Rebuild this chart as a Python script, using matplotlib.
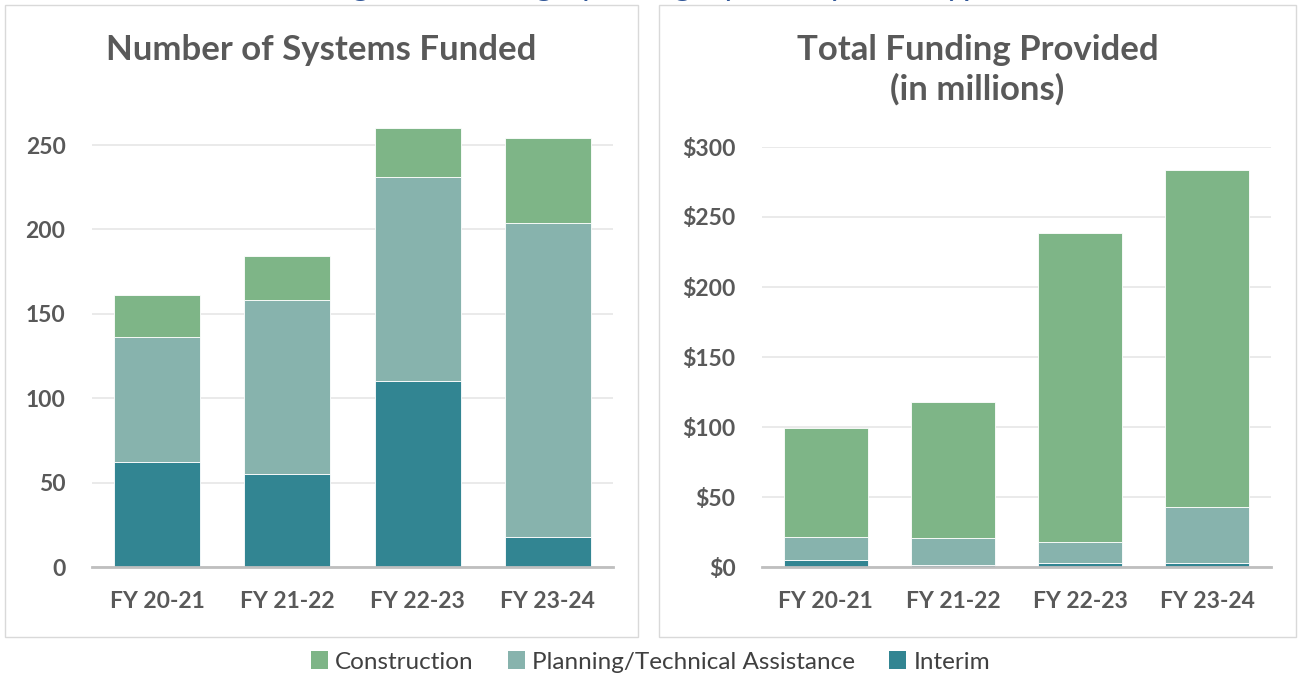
import matplotlib
matplotlib.use("Agg")
import matplotlib.pyplot as plt
from matplotlib.patches import Rectangle, Patch

plt.rcParams['font.family'] = ['Lato', 'DejaVu Sans']

# dados
years = ["FY 20-21", "FY 21-22", "FY 22-23", "FY 23-24"]
series = ["Construction", "Planning/Technical Assistance", "Interim"]

systems_interim = [62, 55, 110, 18]
systems_planning = [74, 103, 121, 186]
systems_construction = [25, 26, 29, 50]

funding_interim = [5, 1.2, 3, 3]
funding_planning = [16.5, 19.8, 15.2, 40]
funding_construction = [77.5, 96.6, 220.3, 240.5]

left_ticks = [0, 50, 100, 150, 200, 250]
right_ticks = [0, 50, 100, 150, 200, 250, 300]

colors = {"Construction": "#7EB587",
          "Planning/Technical Assistance": "#87B3AD",
          "Interim": "#328592"}
gray = "#595959"

W, H = 1301, 679
fig = plt.figure(figsize=(W / 100, H / 100), dpi=100)


def fbox(x0, y0, x1, y1):
    # pixel coords (top-left origin) -> figure fraction
    return [x0 / W, 1 - y1 / H, (x1 - x0) / W, (y1 - y0) / H]


# molduras dos paineis
for x0, x1 in [(5, 638), (659, 1296)]:
    b = fbox(x0, 5, x1, 637)
    fig.patches.append(Rectangle((b[0], b[1]), b[2], b[3], transform=fig.transFigure,
                                 fill=False, edgecolor="#D9D9D9", linewidth=1))

# titulo cortado no topo (so aparecem as partes de baixo das letras)
fig.text(0.5, 1 + 5 / H, "Program Funding by Category and System Type", color="#2F5597",
         fontsize=24, ha="center", va="baseline")


def stacked(ax, interim, planning, construction, ticks, ylim, fmt):
    x = range(len(years))
    width = 0.66
    ax.bar(x, interim, width, color=colors["Interim"], edgecolor="white", linewidth=0.6, zorder=3)
    ax.bar(x, planning, width, bottom=interim, color=colors["Planning/Technical Assistance"],
           edgecolor="white", linewidth=0.6, zorder=3)
    base = [a + b for a, b in zip(interim, planning)]
    ax.bar(x, construction, width, bottom=base, color=colors["Construction"],
           edgecolor="white", linewidth=0.6, zorder=3)
    ax.set_xlim(-0.5, 3.5)
    ax.set_ylim(*ylim)
    ax.set_xticks(list(x))
    ax.set_xticklabels(years)
    ax.set_yticks(ticks)
    ax.set_yticklabels([fmt(t) for t in ticks])
    ax.tick_params(axis="both", length=0, labelsize=16.5, labelcolor=gray)
    ax.tick_params(axis="y", pad=19)
    ax.tick_params(axis="x", pad=17)
    for lab in ax.get_xticklabels() + ax.get_yticklabels():
        lab.set_fontweight("bold")
    ax.grid(axis="y", color="#E6E6E6", linewidth=1.2, zorder=0)
    for s in ["top", "right", "left"]:
        ax.spines[s].set_visible(False)
    ax.spines["bottom"].set_color("#BFBFBF")
    ax.spines["bottom"].set_linewidth(2)
    ax.spines["bottom"].set_zorder(4)


ax1 = fig.add_axes(fbox(92, 567 - 265 * 422 / 250, 613, 567))
stacked(ax1, systems_interim, systems_planning, systems_construction,
        left_ticks, (0, 265), lambda t: f"{t}")

ax2 = fig.add_axes(fbox(762, 147, 1271, 567))
stacked(ax2, funding_interim, funding_planning, funding_construction,
        right_ticks, (0, 300), lambda t: f"${t}")

fig.text(321.5 / W, 1 - 50 / H, "Number of Systems Funded", ha="center", va="center",
         fontsize=25, fontweight="bold", color=gray)
fig.text(977.5 / W, 1 - 70 / H, "Total Funding Provided\n(in millions)", ha="center",
         va="center", fontsize=25, fontweight="bold", color=gray, linespacing=1.25)

handles = [Patch(facecolor=colors[s]) for s in series]
fig.legend(handles, series, loc="center", bbox_to_anchor=(0.5, 1 - 662 / H), ncol=3,
           frameon=False, fontsize=17.5, handlelength=0.7, handleheight=0.7,
           handletextpad=0.3, columnspacing=1.4, labelcolor="#404040")

fig.savefig("out.png", dpi=100)
